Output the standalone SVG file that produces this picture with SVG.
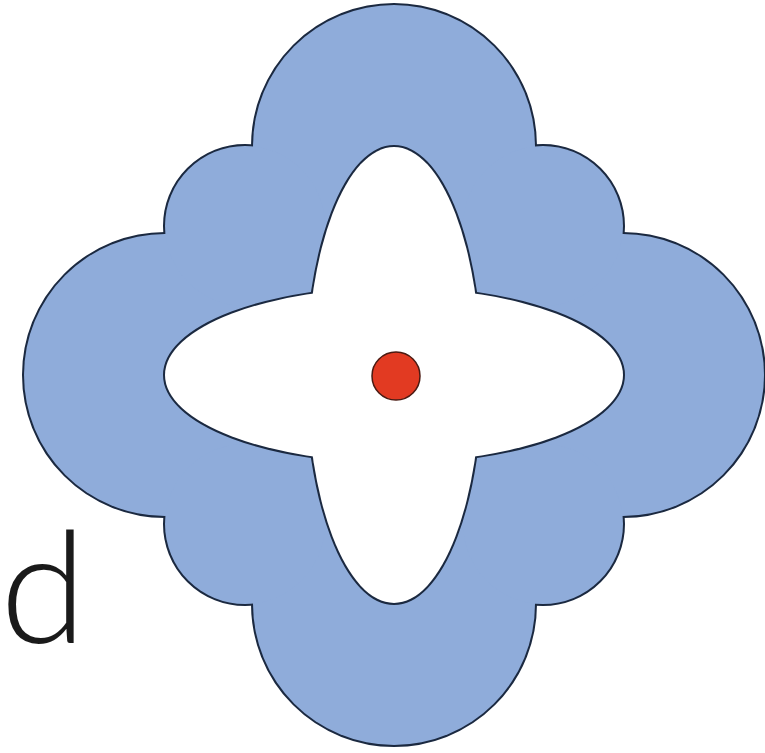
<svg xmlns="http://www.w3.org/2000/svg" width="765" height="753" viewBox="0 0 765 753">
  <style>
    .oline { fill: #8facda; stroke: #1b2940; stroke-width: 4; }
    .ofill { fill: #8facda; stroke: none; }
    .iline { fill: #ffffff; stroke: #1b2940; stroke-width: 4; }
    .ifill { fill: #ffffff; stroke: none; }
    .lbl { font-family: Lato, "Liberation Sans", "DejaVu Sans", sans-serif; font-weight: 300; font-size: 157px; fill: #1a1a1a; }
  </style>
  <defs>
    <g id="outerShapes">
      <circle cx="394" cy="146" r="141"/>
      <circle cx="394" cy="604" r="141"/>
      <circle cx="165" cy="375" r="141"/>
      <circle cx="623" cy="375" r="141"/>
      <circle cx="245" cy="226" r="80"/>
      <circle cx="543" cy="226" r="80"/>
      <circle cx="245" cy="524" r="80"/>
      <circle cx="543" cy="524" r="80"/>
    </g>
    <g id="innerShapes">
      <ellipse cx="394" cy="375" rx="229" ry="87"/>
      <ellipse cx="394" cy="375" rx="87" ry="228"/>
    </g>
  </defs>
  <rect width="765" height="753" fill="#ffffff"/>
  <g id="outer-region">
    <use href="#outerShapes" class="oline"/>
    <use href="#outerShapes" class="ofill"/>
    <rect class="ofill" x="245" y="226" width="298" height="298"/>
  </g>
  <g id="inner-region">
    <use href="#innerShapes" class="iline"/>
    <use href="#innerShapes" class="ifill"/>
  </g>
  <g id="center-point">
    <circle cx="396" cy="376" r="24" fill="#e23a22" stroke="#4a1a12" stroke-width="1.5"/>
  </g>
  <g id="label-d">
    <text class="lbl" x="0" y="643">d</text>
  </g>
</svg>
